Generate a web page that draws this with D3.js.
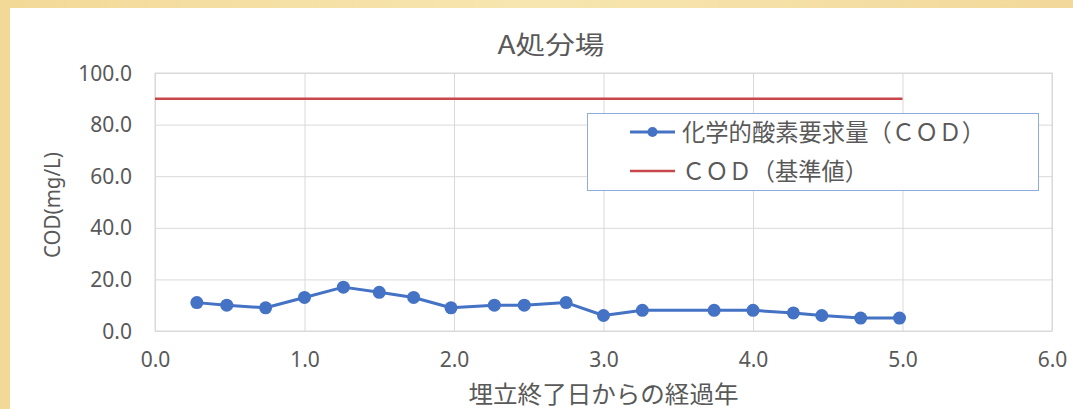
<!DOCTYPE html>
<html>
<head>
<meta charset="utf-8">
<script src="https://cdn.jsdelivr.net/npm/d3@7/dist/d3.min.js"></script>
<style>
  html, body { margin: 0; padding: 0; background: #f5e1a4; }
  svg { display: block; }
  text { font-family: "Noto Sans CJK JP", "Noto Sans", sans-serif; fill: #595959; }
</style>
</head>
<body>
<svg id="chart" width="1073" height="409"></svg>
<script>
// Elapsed years since landfill closure and measured COD (mg/L)
const years = [0.28, 0.48, 0.74, 1.0, 1.26, 1.5, 1.73, 1.98, 2.27, 2.47, 2.75, 3.0, 3.26, 3.74, 4.0, 4.27, 4.46, 4.72, 4.98];
const cod   = [11, 10, 9, 13, 17, 15, 13, 9, 10, 10, 11, 6, 8, 8, 8, 7, 6, 5, 5];

// Regulatory standard line
const standardYears = [0, 5];
const standardValue = [90, 90];

const xTicks = [0, 1, 2, 3, 4, 5, 6];
const yTicks = [0, 20, 40, 60, 80, 100];

const title = "A処分場";
const xTitle = "埋立終了日からの経過年";
const yTitle = "COD(mg/L)";
const seriesNames = ["化学的酸素要求量（ＣＯＤ）", "ＣＯＤ（基準値）"];

const blue = "#4472c4";
const red = "#c9474a";
const grid = "#d9d9d9";

const svg = d3.select("#chart");

// background band and white chart panel
const defs = svg.append("defs");
const grad = defs.append("linearGradient").attr("id", "bg").attr("x1", 0).attr("x2", 1).attr("y1", 0).attr("y2", 0);
grad.append("stop").attr("offset", "0%").attr("stop-color", "#f3d998");
grad.append("stop").attr("offset", "50%").attr("stop-color", "#f7e6b0");
grad.append("stop").attr("offset", "100%").attr("stop-color", "#f2d89a");
svg.append("rect").attr("width", 1073).attr("height", 409).attr("fill", "url(#bg)");
svg.append("rect").attr("x", 10).attr("y", 8).attr("width", 1063).attr("height", 401).attr("fill", "#ffffff");

const plot = { left: 155, right: 1052, top: 73, bottom: 331 };

const x = d3.scaleLinear().domain([0, 6]).range([plot.left, plot.right]);
const y = d3.scaleLinear().domain([0, 100]).range([plot.bottom, plot.top]);

// gridlines and tick labels
const gy = svg.append("g")
  .attr("transform", `translate(${plot.left},0)`)
  .call(d3.axisLeft(y).tickValues(yTicks).tickSize(-(plot.right - plot.left)).tickFormat(d3.format(".1f")).tickPadding(23));
const gx = svg.append("g")
  .attr("transform", `translate(0,${plot.bottom})`)
  .call(d3.axisBottom(x).tickValues(xTicks).tickSize(-(plot.bottom - plot.top)).tickFormat(d3.format(".1f")).tickPadding(21));

[gx, gy].forEach(g => {
  g.select(".domain").remove();
  g.selectAll(".tick line").attr("stroke", grid).attr("stroke-width", 1);
  g.selectAll(".tick text").attr("font-size", 21).attr("fill", "#595959")
    .style("font-family", "'Noto Sans', sans-serif");
});
gy.selectAll(".tick text").attr("dy", "0.34em");

// plot frame
svg.append("rect")
  .attr("x", plot.left).attr("y", plot.top)
  .attr("width", plot.right - plot.left).attr("height", plot.bottom - plot.top)
  .attr("fill", "none").attr("stroke", grid).attr("stroke-width", 1);

// standard line
const stdData = standardYears.map((v, i) => [v, standardValue[i]]);
svg.append("path")
  .datum(stdData)
  .attr("fill", "none").attr("stroke", red).attr("stroke-width", 2.6)
  .attr("d", d3.line().x(d => x(d[0])).y(d => y(d[1])));

// COD series
const data = years.map((v, i) => [v, cod[i]]);
svg.append("path")
  .datum(data)
  .attr("fill", "none").attr("stroke", blue).attr("stroke-width", 3)
  .attr("stroke-linejoin", "round")
  .attr("d", d3.line().x(d => x(d[0])).y(d => y(d[1])));
svg.append("g").selectAll("circle").data(data).join("circle")
  .attr("cx", d => x(d[0])).attr("cy", d => y(d[1])).attr("r", 6.5)
  .attr("fill", blue);

// title
svg.append("text")
  .attr("x", 551).attr("y", 54).attr("text-anchor", "middle")
  .attr("font-size", 25)
  .attr("textLength", 107).attr("lengthAdjust", "spacingAndGlyphs")
  .text(title);

// axis titles
svg.append("text")
  .attr("x", (plot.left + plot.right) / 2).attr("y", 403).attr("text-anchor", "middle")
  .attr("font-size", 24)
  .attr("textLength", 270).attr("lengthAdjust", "spacingAndGlyphs")
  .text(xTitle);

svg.append("text")
  .attr("transform", `translate(60,205) rotate(-90)`)
  .attr("text-anchor", "middle")
  .attr("font-size", 21)
  .style("font-family", "'Noto Sans', sans-serif")
  .attr("textLength", 106).attr("lengthAdjust", "spacingAndGlyphs")
  .text(yTitle);

// legend
const legend = svg.append("g");
legend.append("rect")
  .attr("x", 587.5).attr("y", 113.5).attr("width", 451).attr("height", 77)
  .attr("fill", "#ffffff").attr("stroke", "#8faadc").attr("stroke-width", 1);

const legendRows = [
  { name: seriesNames[0], color: blue, marker: true, y: 132, width: 303 },
  { name: seriesNames[1], color: red, marker: false, y: 171, width: 186 }
];
legendRows.forEach(r => {
  legend.append("line")
    .attr("x1", 630).attr("x2", 675).attr("y1", r.y).attr("y2", r.y)
    .attr("stroke", r.color).attr("stroke-width", r.marker ? 3 : 2.6);
  if (r.marker) {
    legend.append("circle").attr("cx", 652.5).attr("cy", r.y).attr("r", 5).attr("fill", r.color);
  }
  legend.append("text")
    .attr("x", 682).attr("y", r.y + 8.5)
    .attr("font-size", 24)
    .attr("textLength", r.width).attr("lengthAdjust", "spacingAndGlyphs")
    .text(r.name);
});
</script>
</body>
</html>
